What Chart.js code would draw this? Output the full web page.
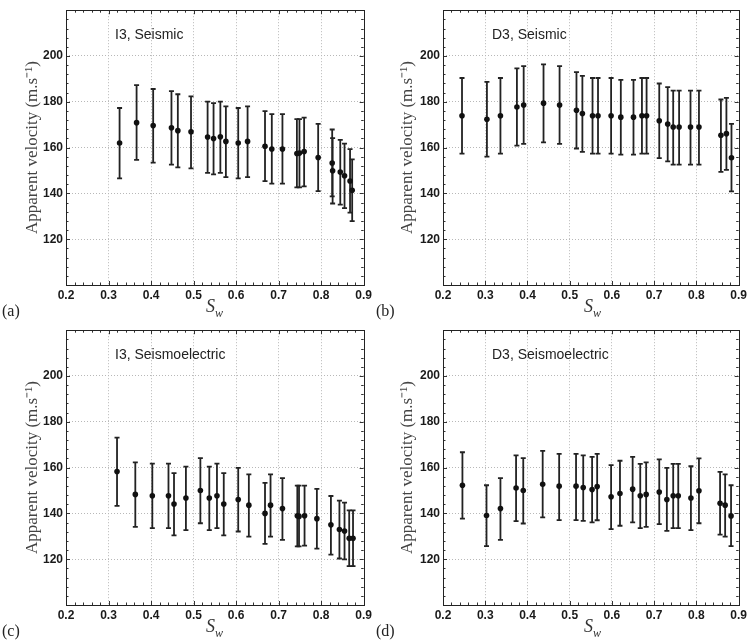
<!DOCTYPE html>
<html>
<head>
<meta charset="utf-8">
<script src="https://cdn.jsdelivr.net/npm/chart.js@4.4.0/dist/chart.umd.min.js"></script>
<style>
  body { margin: 0; background: #fff; width: 750px; height: 640px; position: relative; overflow: hidden; }
  canvas { position: absolute; }
  .tag { position: absolute; font-family: "Liberation Serif", serif; font-size: 16px; color: #222; }
  .sw { position: absolute; font-family: "Liberation Serif", serif; font-style: italic; font-size: 18px; color: #333; }
  .sw sub { font-size: 12px; }
</style>
</head>
<body>
<canvas id="ca" width="375" height="320" style="left:0;top:0"></canvas>
<canvas id="cb" width="375" height="320" style="left:375px;top:0"></canvas>
<canvas id="cc" width="375" height="320" style="left:0;top:320px"></canvas>
<canvas id="cd" width="375" height="320" style="left:375px;top:320px"></canvas>

<span class="tag" style="left:2px;top:302px">(a)</span>
<span class="tag" style="left:376px;top:302px">(b)</span>
<span class="tag" style="left:2px;top:622px">(c)</span>
<span class="tag" style="left:376px;top:622px">(d)</span>
<span class="sw" style="left:206px;top:296px">S<sub>w</sub></span>
<span class="sw" style="left:584px;top:296px">S<sub>w</sub></span>
<span class="sw" style="left:206px;top:616px">S<sub>w</sub></span>
<span class="sw" style="left:584px;top:616px">S<sub>w</sub></span>

<script>
// (a) I3, Seismic
const swA  = [0.326, 0.366, 0.405, 0.448, 0.463, 0.494, 0.533, 0.547, 0.563, 0.576, 0.605, 0.627, 0.668, 0.684, 0.709, 0.743, 0.749, 0.760, 0.793, 0.826, 0.827, 0.845, 0.855, 0.868, 0.873];
const velA = [162.0, 170.9, 169.6, 168.7, 167.4, 166.9, 164.6, 164.0, 164.7, 162.7, 162.0, 162.7, 160.6, 159.4, 159.4, 157.4, 157.6, 158.3, 155.7, 153.3, 149.9, 149.3, 147.7, 145.4, 141.4];
const loA  = [146.6, 154.6, 153.4, 152.6, 151.4, 150.9, 149.0, 148.3, 149.0, 147.1, 146.6, 147.1, 145.4, 144.3, 144.3, 142.6, 142.6, 143.1, 141.0, 138.7, 135.6, 135.1, 133.6, 131.6, 127.9];
const hiA  = [177.3, 187.3, 185.6, 184.7, 183.3, 182.4, 180.1, 179.4, 180.1, 178.0, 177.3, 178.0, 175.9, 174.6, 174.6, 172.4, 172.4, 173.1, 170.4, 167.9, 164.1, 163.4, 161.7, 159.3, 154.9];

// (b) D3, Seismic
const swB  = [0.245, 0.304, 0.336, 0.375, 0.391, 0.438, 0.476, 0.516, 0.530, 0.554, 0.567, 0.598, 0.621, 0.651, 0.671, 0.682, 0.712, 0.732, 0.745, 0.759, 0.786, 0.806, 0.858, 0.871, 0.883];
const velB = [173.9, 172.4, 173.9, 177.7, 178.6, 179.4, 178.6, 176.3, 174.9, 173.9, 173.9, 173.9, 173.3, 173.3, 173.9, 173.9, 171.7, 170.3, 169.0, 169.0, 169.0, 169.0, 165.4, 166.1, 155.6];
const loB  = [157.4, 156.1, 157.4, 160.9, 161.6, 162.3, 161.6, 159.6, 158.1, 157.4, 157.4, 157.4, 156.9, 156.9, 157.4, 157.4, 155.4, 154.0, 152.6, 152.6, 152.6, 152.6, 149.4, 150.3, 140.9];
const hiB  = [190.4, 188.7, 190.4, 194.6, 195.6, 196.3, 195.6, 193.0, 191.3, 190.4, 190.4, 190.4, 189.6, 189.6, 190.4, 190.4, 188.0, 186.4, 184.9, 184.9, 184.9, 184.9, 181.0, 181.7, 170.4];

// (c) I3, Seismoelectric
const swC  = [0.320, 0.363, 0.403, 0.441, 0.454, 0.482, 0.516, 0.537, 0.555, 0.571, 0.605, 0.630, 0.668, 0.681, 0.709, 0.744, 0.748, 0.761, 0.790, 0.823, 0.843, 0.855, 0.866, 0.875];
const velC = [158.3, 148.3, 147.7, 147.7, 144.1, 146.7, 150.0, 146.7, 147.7, 144.1, 146.1, 143.6, 140.0, 143.6, 142.1, 139.0, 138.7, 139.0, 137.7, 135.0, 133.0, 132.3, 129.1, 129.1];
const loC  = [143.3, 134.1, 133.6, 133.6, 130.4, 132.7, 135.7, 132.7, 133.6, 130.4, 132.1, 129.9, 126.7, 129.9, 128.4, 125.6, 125.6, 125.9, 124.6, 122.0, 120.3, 119.9, 117.0, 117.0];
const hiC  = [173.1, 162.3, 161.7, 161.7, 157.6, 160.4, 164.1, 160.4, 161.7, 157.6, 159.9, 157.0, 153.3, 157.0, 155.4, 152.1, 152.1, 152.1, 150.7, 147.6, 145.6, 144.7, 141.3, 141.3];

// (d) D3, Seismoelectric
const swD  = [0.246, 0.303, 0.336, 0.373, 0.390, 0.436, 0.475, 0.515, 0.532, 0.553, 0.565, 0.598, 0.619, 0.649, 0.667, 0.681, 0.712, 0.730, 0.745, 0.757, 0.787, 0.806, 0.856, 0.868, 0.882];
const velD = [152.3, 139.1, 142.1, 151.1, 150.0, 152.7, 151.9, 151.9, 151.3, 150.4, 151.7, 147.3, 148.7, 150.6, 147.7, 148.3, 149.3, 146.1, 147.7, 147.7, 146.7, 149.9, 144.4, 143.6, 138.9];
const loD  = [137.7, 125.7, 128.4, 136.6, 135.6, 138.3, 137.1, 137.1, 136.7, 136.1, 137.0, 133.1, 134.6, 136.1, 133.6, 134.1, 135.3, 132.4, 133.6, 133.6, 132.7, 135.7, 130.7, 129.9, 125.7];
const hiD  = [166.7, 152.3, 155.4, 165.3, 164.1, 167.3, 166.0, 166.0, 165.3, 164.7, 166.0, 161.1, 163.0, 164.7, 161.6, 162.3, 163.6, 159.9, 161.6, 161.6, 160.6, 164.0, 158.1, 157.0, 152.3];

const xTicks = [0.2, 0.3, 0.4, 0.5, 0.6, 0.7, 0.8, 0.9];
const yTicks = [120, 140, 160, 180, 200];

const panels = [
  { id: 'ca', title: 'I3, Seismic',        sw: swA, vel: velA, lo: loA, hi: hiA, yWidth: 66, padRight: 11 },
  { id: 'cb', title: 'D3, Seismic',        sw: swB, vel: velB, lo: loB, hi: hiB, yWidth: 68, padRight: 9 },
  { id: 'cc', title: 'I3, Seismoelectric', sw: swC, vel: velC, lo: loC, hi: hiC, yWidth: 66, padRight: 11 },
  { id: 'cd', title: 'D3, Seismoelectric', sw: swD, vel: velD, lo: loD, hi: hiD, yWidth: 68, padRight: 9 }
];

// error bars, axes box, inward ticks and panel label
function boxPlugin(p) {
  return {
    id: 'box',
    beforeDatasetsDraw(chart) {
      const { ctx, scales: { x, y } } = chart;
      ctx.save();
      ctx.strokeStyle = '#222';
      ctx.lineWidth = 1.8;
      p.sw.forEach((s, i) => {
        const px = x.getPixelForValue(s);
        const y1 = y.getPixelForValue(p.lo[i]);
        const y2 = y.getPixelForValue(p.hi[i]);
        ctx.beginPath();
        ctx.moveTo(px, y1); ctx.lineTo(px, y2);
        ctx.moveTo(px - 2.5, y1); ctx.lineTo(px + 2.5, y1);
        ctx.moveTo(px - 2.5, y2); ctx.lineTo(px + 2.5, y2);
        ctx.stroke();
      });
      ctx.restore();
    },
    afterDraw(chart) {
      const { ctx, chartArea: a, scales: { x, y } } = chart;
      ctx.save();
      ctx.strokeStyle = '#333';
      ctx.lineWidth = 1;
      ctx.beginPath();
      // x ticks every 0.02, major every 0.1
      for (let i = 0; i <= 35; i++) {
        const px = Math.round(x.getPixelForValue(0.2 + i * 0.02)) + 0.5;
        const len = i % 5 === 0 ? 4 : 2.5;
        ctx.moveTo(px, a.bottom); ctx.lineTo(px, a.bottom - len);
        ctx.moveTo(px, a.top); ctx.lineTo(px, a.top + len);
      }
      // y ticks every 4, major every 20
      for (let i = 0; i <= 30; i++) {
        const py = Math.round(y.getPixelForValue(100 + i * 4)) + 0.5;
        const len = i % 5 === 0 ? 4 : 2.5;
        ctx.moveTo(a.left, py); ctx.lineTo(a.left + len, py);
        ctx.moveTo(a.right, py); ctx.lineTo(a.right - len, py);
      }
      ctx.stroke();
      ctx.strokeStyle = '#222';
      ctx.strokeRect(Math.round(a.left) + 0.5, Math.round(a.top) + 0.5,
                     Math.round(a.right - a.left), Math.round(a.bottom - a.top));
      ctx.fillStyle = '#222';
      ctx.font = '14px "Liberation Sans", Arial, sans-serif';
      ctx.textBaseline = 'middle';
      ctx.fillText(p.title, a.left + 49, a.top + 25);
      ctx.restore();
    }
  };
}

const near = (v, list) => list.some(t => Math.abs(v - t) < 1e-6);

panels.forEach(p => {
  new Chart(document.getElementById(p.id), {
    type: 'scatter',
    data: {
      datasets: [{
        data: p.sw.map((s, i) => ({ x: s, y: p.vel[i] })),
        pointRadius: 2.8,
        pointBackgroundColor: '#111',
        pointBorderWidth: 0,
        showLine: false
      }]
    },
    options: {
      responsive: false,
      animation: false,
      devicePixelRatio: 1,
      layout: { padding: { top: 5, right: p.padRight, left: 0, bottom: 0 } },
      plugins: { legend: { display: false }, tooltip: { enabled: false } },
      scales: {
        x: {
          type: 'linear',
          min: 0.2,
          max: 0.9,
          afterBuildTicks: s => { s.ticks = xTicks.map(v => ({ value: v })); },
          afterFit: s => { s.height = 35; },
          ticks: {
            callback: v => v.toFixed(1),
            font: { family: '"Liberation Sans", Arial, sans-serif', size: 12, weight: 'bold' },
            color: '#1a1a1a',
            padding: 3,
            maxRotation: 0
          },
          grid: {
            drawTicks: false,
            color: c => near(c.tick.value, [0.2, 0.9]) ? 'rgba(0,0,0,0)' : '#b8b8b8',
            lineWidth: 1
          },
          border: { display: false, dash: [1, 2] }
        },
        y: {
          min: 100,
          max: 220,
          afterBuildTicks: s => { s.ticks = yTicks.map(v => ({ value: v })); },
          afterFit: s => { s.width = p.yWidth; },
          ticks: {
            font: { family: '"Liberation Sans", Arial, sans-serif', size: 12, weight: 'bold' },
            color: '#1a1a1a',
            padding: 3
          },
          grid: { drawTicks: false, color: '#b8b8b8', lineWidth: 1 },
          border: { display: false, dash: [1, 2] },
          title: {
            display: true,
            text: 'Apparent velocity (m.s\u207B\u00B9)',
            font: { family: '"Liberation Serif", "Times New Roman", serif', size: 17 },
            color: '#444',
            padding: { top: 22, bottom: 0 }
          }
        }
      }
    },
    plugins: [boxPlugin(p)]
  });
});
</script>
</body>
</html>
